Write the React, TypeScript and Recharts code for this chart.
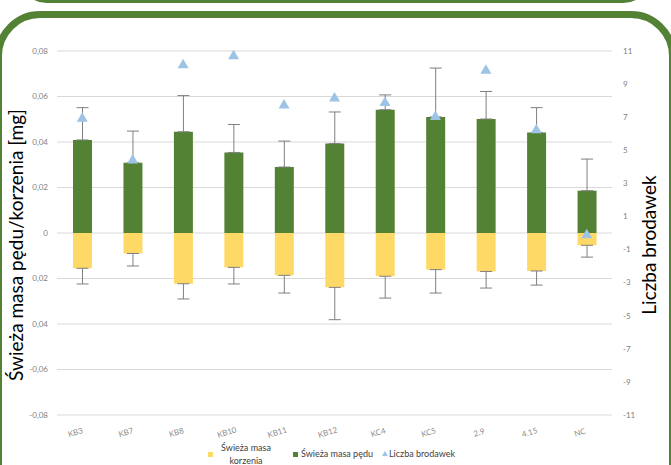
import { ComposedChart, Bar, Line, XAxis, YAxis, CartesianGrid, ErrorBar, Label } from 'recharts';

const categories = ['KB3', 'KB7', 'KB8', 'KB10', 'KB11', 'KB12', 'KC4', 'KC5', '2.9', '4.15', 'NC'];
const shootMass = [0.0409, 0.0309, 0.0445, 0.0354, 0.029, 0.0393, 0.0542, 0.051, 0.0501, 0.0442, 0.0186];
const shootErrUp = [0.0142, 0.0139, 0.0159, 0.0123, 0.0114, 0.0139, 0.0065, 0.0215, 0.0121, 0.0109, 0.0139];
const rootMass = [-0.0155, -0.009, -0.0223, -0.0151, -0.0186, -0.0239, -0.019, -0.0161, -0.0169, -0.0167, -0.0054];
const rootErrDown = [0.0069, 0.0055, 0.0067, 0.0073, 0.0078, 0.0142, 0.0096, 0.0103, 0.0073, 0.0062, 0.0052];
const noduleCount = [7.0, 4.47, 10.23, 10.77, 7.8, 8.22, 7.95, 7.1, 9.9, 6.3, -0.05];

const leftTicks = [0.08, 0.06, 0.04, 0.02, 0, -0.02, -0.04, -0.06, -0.08];
const leftTickLabels = ['0,08', '0,06', '0,04', '0,02', '0', '0,02', '0,04', '-0,06', '-0,08'];
const rightTicks = [11, 9, 7, 5, 3, 1, -1, -3, -5, -7, -9, -11];

const data = categories.map((name, i) => ({
  name,
  shoot: shootMass[i],
  root: rootMass[i],
  shootErr: [0, shootErrUp[i]],
  rootErr: [rootErrDown[i], 0],
  nodules: noduleCount[i],
}));

const GREEN = '#548235';
const YELLOW = '#ffd966';
const BLUE = '#9dc3e6';
const FONT = 'Lato, "Liberation Sans", sans-serif';

function XTick({ x, y, payload }: any) {
  const tx = x - 6;
  const ty = y + 18;
  return (
    <text x={tx} y={ty} transform={`rotate(-17 ${tx} ${ty})`} textAnchor="middle" fontSize={8} fill="#8c8c8c" fontFamily={FONT}>
      {payload.value}
    </text>
  );
}

function Triangle({ cx, cy, index }: any) {
  if (cx == null || cy == null) return null;
  return <polygon key={`tri-${index}`} points={`${cx},${cy - 5} ${cx - 5.5},${cy + 4.5} ${cx + 5.5},${cy + 4.5}`} fill={BLUE} />;
}

export default function App() {
  return (
    <div style={{ position: 'absolute', left: 0, top: 0, width: 671, height: 465, overflow: 'hidden', background: '#fff', fontFamily: FONT }}>
      <ComposedChart
        width={671}
        height={465}
        data={data}
        barSize={19}
        barGap={-19}
        margin={{ top: 51, right: 0, bottom: 0, left: 0 }}
      >
        <CartesianGrid yAxisId="left" vertical={false} stroke="#d9d9d9" />
        <XAxis dataKey="name" axisLine={false} tickLine={false} tickSize={0} height={50} tick={<XTick />} interval={0} />
        <YAxis
          yAxisId="left"
          width={57}
          domain={[-0.08, 0.08]}
          ticks={leftTicks}
          axisLine={false}
          tickLine={false}
          tickSize={0}
          tickMargin={9}
          tick={{ fontSize: 8, fill: '#7f7f7f', fontFamily: FONT }}
          tickFormatter={(v: number) => leftTickLabels[leftTicks.indexOf(v)] ?? String(v)}
        >
          <Label
            content={() => (
              <text x={15} y={245} transform="rotate(-90 15 245)" textAnchor="middle" dominantBaseline="central" fontSize={19} fill="#000" fontFamily={FONT}>
                Świeża masa pędu/korzenia [mg]
              </text>
            )}
          />
        </YAxis>
        <YAxis
          yAxisId="right"
          orientation="right"
          width={59}
          domain={[-11, 11]}
          ticks={rightTicks}
          axisLine={false}
          tickLine={false}
          tickSize={0}
          tickMargin={11}
          tick={{ fontSize: 8, fill: '#7f7f7f', fontFamily: FONT, textAnchor: 'start' }}
        >
          <Label
            content={() => (
              <text x={648} y={245} transform="rotate(-90 648 245)" textAnchor="middle" dominantBaseline="central" fontSize={19} fill="#000" fontFamily={FONT}>
                Liczba brodawek
              </text>
            )}
          />
        </YAxis>
        <Bar yAxisId="left" dataKey="root" name="Świeża masa korzenia" fill={YELLOW} isAnimationActive={false}>
          <ErrorBar dataKey="rootErr" width={6} stroke="#7f7f7f" strokeWidth={1} direction="y" />
        </Bar>
        <Bar yAxisId="left" dataKey="shoot" name="Świeża masa pędu" fill={GREEN} isAnimationActive={false}>
          <ErrorBar dataKey="shootErr" width={6} stroke="#7f7f7f" strokeWidth={1} direction="y" />
        </Bar>
        <Line
          yAxisId="right"
          dataKey="nodules"
          name="Liczba brodawek"
          stroke="none"
          dot={<Triangle />}
          activeDot={false}
          isAnimationActive={false}
        />
      </ComposedChart>

      {/* legend */}
      <div style={{ position: 'absolute', left: 0, top: 440, width: 671, height: 25, fontSize: 9, color: '#404040', fontFamily: FONT }}>
        <div style={{ position: 'absolute', left: 208, top: 12, width: 5, height: 5, background: YELLOW }} />
        <div style={{ position: 'absolute', left: 214, top: 1, width: 64, textAlign: 'center', lineHeight: '13px' }}>
          Świeża masa
          <br />
          korzenia
        </div>
        <div style={{ position: 'absolute', left: 293, top: 12, width: 5, height: 5, background: GREEN }} />
        <div style={{ position: 'absolute', left: 301, top: 8, whiteSpace: 'nowrap', lineHeight: '12px' }}>Świeża masa pędu</div>
        <svg style={{ position: 'absolute', left: 382, top: 11 }} width={6} height={6}>
          <polygon points="3,0 0,5 6,5" fill={BLUE} />
        </svg>
        <div style={{ position: 'absolute', left: 389, top: 8, whiteSpace: 'nowrap', lineHeight: '12px' }}>Liczba brodawek</div>
      </div>

      {/* frame */}
      <div style={{ position: 'absolute', left: 20, top: -50, width: 624, height: 47, border: '3px solid #548235', borderRadius: 28, pointerEvents: 'none' }} />
      <div style={{ position: 'absolute', left: -5, top: 11, width: 667, height: 500, border: '7px solid #548235', borderRadius: 45, pointerEvents: 'none' }} />
    </div>
  );
}
